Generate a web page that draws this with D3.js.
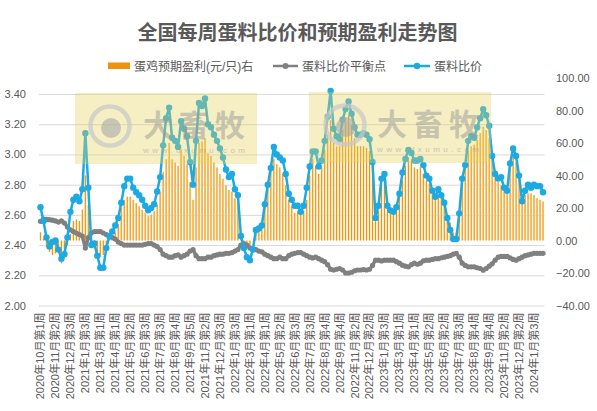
<!DOCTYPE html>
<html>
<head>
<meta charset="utf-8">
<script src="https://cdn.jsdelivr.net/npm/d3@7"></script>
<style>
  body { margin: 0; background: #fff; }
  text { font-family: "Liberation Sans", "Noto Sans CJK SC", sans-serif; }
</style>
</head>
<body>
<div id="chart"></div>
<script>
// 蛋料比价 (left axis), one value per week from 2020年10月第1周
const ratio = [
  2.65, 2.56, 2.45, 2.39, 2.42, 2.43, 2.37, 2.31, 2.34, 2.45,
  2.62, 2.70, 2.72, 2.69, 2.77, 3.14, 2.78, 2.40, 2.41, 2.33,
  2.25, 2.25, 2.38, 2.46, 2.49, 2.53, 2.58, 2.68, 2.79, 2.84,
  2.84, 2.78, 2.75, 2.73, 2.70, 2.66, 2.63, 2.645, 2.67, 2.755,
  2.85, 3.06, 3.24, 3.31, 3.11, 3.09, 3.05, 3.22, 3.17, 3.12,
  2.95, 2.80, 3.09, 3.34, 3.32, 3.37, 3.20, 3.18, 3.13, 3.09,
  3.04, 2.98, 2.90, 2.85, 2.87, 2.77, 2.73, 2.46, 2.38, 2.32,
  2.30, 2.37, 2.50, 2.51, 2.53, 2.67, 2.80, 2.91, 3.05, 3.00,
  2.98, 2.96, 2.87, 2.74, 2.70, 2.66, 2.66, 2.62, 2.66, 2.78,
  2.92, 3.02, 3.02, 2.92, 2.96, 3.09, 3.25, 3.42, 3.17, 3.12,
  3.10, 3.23, 3.30, 3.35, 3.27, 3.18, 3.13, 3.13, 3.14, 3.13,
  3.10, 2.95, 2.58, 2.66, 2.84, 2.87, 2.66, 2.63, 2.62, 2.65,
  2.74, 2.88, 2.97, 3.03, 3.01, 2.96, 2.96, 2.97, 2.93, 2.86,
  2.84, 2.76, 2.72, 2.77, 2.73, 2.68, 2.58, 2.50, 2.44, 2.44,
  2.61, 2.84, 2.93, 3.09, 3.12, 3.11, 3.18, 3.24, 3.30, 3.26,
  3.19, 2.99, 2.87, 2.84, 2.85, 2.78, 2.76, 2.94, 3.04, 2.99,
  2.86, 2.69, 2.76, 2.80, 2.78, 2.80, 2.79, 2.79, 2.75
];

// 蛋料比价平衡点 (left axis)
const balance = [
  2.557, 2.572, 2.57, 2.568, 2.565, 2.56, 2.552, 2.56, 2.546, 2.52,
  2.50, 2.49, 2.48, 2.47, 2.46, 2.38, 2.45, 2.48, 2.49, 2.49,
  2.49, 2.48, 2.47, 2.46, 2.45, 2.44, 2.42, 2.41, 2.40, 2.40,
  2.40, 2.40, 2.40, 2.40, 2.40, 2.405, 2.41, 2.41, 2.40, 2.39,
  2.37, 2.34, 2.33, 2.32, 2.32, 2.33, 2.335, 2.32, 2.33, 2.34,
  2.36, 2.37, 2.33, 2.31, 2.31, 2.31, 2.32, 2.32, 2.33, 2.335,
  2.34, 2.34, 2.345, 2.345, 2.35, 2.36, 2.37, 2.40, 2.41, 2.40,
  2.38, 2.375, 2.37, 2.36, 2.355, 2.34, 2.33, 2.32, 2.31, 2.31,
  2.32, 2.31, 2.31, 2.33, 2.34, 2.345, 2.35, 2.35, 2.34, 2.33,
  2.32, 2.315, 2.32, 2.31, 2.30, 2.29, 2.27, 2.24, 2.235, 2.24,
  2.245, 2.235, 2.215, 2.215, 2.22, 2.23, 2.235, 2.235, 2.238, 2.235,
  2.24, 2.265, 2.30, 2.30, 2.295, 2.30, 2.30, 2.30, 2.30, 2.29,
  2.28, 2.267, 2.26, 2.256, 2.27, 2.28, 2.273, 2.28, 2.296, 2.30,
  2.30, 2.305, 2.31, 2.31, 2.316, 2.32, 2.325, 2.33, 2.34, 2.345,
  2.32, 2.28, 2.265, 2.256, 2.256, 2.256, 2.25, 2.245, 2.234, 2.245,
  2.26, 2.276, 2.30, 2.32, 2.325, 2.325, 2.325, 2.315, 2.305, 2.30,
  2.31, 2.32, 2.33, 2.335, 2.34, 2.345, 2.345, 2.345, 2.345
];

// 蛋鸡预期盈利(元/只) (right axis)
const profit = [
  5, 1, -4, -7, -9, -8, -7, -14, -11, -3,
  4, 12, 13, 12, 19, 40, 22, -4, -5, -7,
  -10, -9, -4, 1, 3, 5, 10, 20, 25, 27,
  27, 25, 23, 21, 19, 17, 15, 16, 18, 22,
  30, 42, 50, 60, 50, 48, 46, 56, 52, 47,
  36, 25, 45, 60, 61, 63, 54, 52, 48, 45,
  41, 38, 34, 31, 30, 26, 24, 2, -2, -4,
  -4, 0, 6, 8, 9, 22, 32, 44, 50, 47,
  45, 41, 34, 25, 21, 17, 18, 16, 18, 25,
  40, 50, 46, 41, 45, 56, 65, 74, 60, 58,
  58, 68, 73, 77, 71, 63, 58, 58, 58, 57,
  55, 46, 13, 18, 34, 37, 22, 19, 18, 20,
  28, 37, 46, 51, 49, 45, 44, 45, 41, 37,
  35, 30, 26, 28, 26, 22, 16, 11, 5, 5,
  14, 37, 45, 55, 58, 59, 62, 66, 70, 68,
  63, 52, 41, 36, 34, 31, 30, 45, 52, 48,
  39, 24, 28, 29, 29, 28, 26, 25, 24
];

// one label every 5 weeks
const tickLabels = [
  "2020年10月第1周", "2020年11月第2周", "2020年12月第3周", "2021年1月第3周",
  "2021年3月第1周", "2021年4月第1周", "2021年5月第2周", "2021年6月第3周",
  "2021年7月第3周", "2021年8月第4周", "2021年9月第5周", "2021年11月第2周",
  "2021年12月第3周", "2022年1月第3周", "2022年3月第1周", "2022年4月第1周",
  "2022年5月第2周", "2022年6月第3周", "2022年7月第3周", "2022年8月第4周",
  "2022年9月第4周", "2022年11月第2周", "2022年12月第2周", "2023年1月第3周",
  "2023年3月第1周", "2023年4月第1周", "2023年5月第2周", "2023年6月第2周",
  "2023年7月第3周", "2023年8月第4周", "2023年9月第4周", "2023年11月第2周",
  "2023年12月第2周", "2024年1月第3周"
];

const leftTicks = [2.0, 2.2, 2.4, 2.6, 2.8, 3.0, 3.2, 3.4];
const rightTicks = [-40, -20, 0, 20, 40, 60, 80, 100];

const W = 597, H = 411;
const plot = {left: 39, right: 544.5, top: 94, bottom: 305.5};
const blue = "#1DA9E1", gray = "#808080", orange = "#EF920D", textCol = "#595959";

const svg = d3.select("#chart").append("svg")
  .attr("width", W)
  .attr("height", H);

const x = d3.scaleBand()
  .domain(d3.range(ratio.length))
  .range([plot.left, plot.right]);
const yL = d3.scaleLinear().domain([2.0, 3.4]).range([plot.bottom, plot.top]);
const yR = d3.scaleLinear().domain([-40, 100]).range([plot.bottom, 78]);
const cx = i => x(i) + x.bandwidth() / 2;

// title
svg.append("text")
  .attr("x", 297.5)
  .attr("y", 40)
  .attr("text-anchor", "middle")
  .attr("fill", textCol)
  .attr("font-size", 20)
  .attr("font-weight", "bold")
  .style("font-family", "'Noto Sans CJK SC', sans-serif")
  .text("全国每周蛋料比价和预期盈利走势图");

// left axis + gridlines
const gL = svg.append("g")
  .attr("transform", `translate(${plot.left},0)`)
  .call(d3.axisLeft(yL).tickValues(leftTicks).tickFormat(d3.format(".2f"))
    .tickSize(-(plot.right - plot.left)).tickPadding(13));
gL.select(".domain").remove();
gL.selectAll(".tick line").attr("stroke", "#D9D9D9");
gL.selectAll(".tick text").attr("fill", textCol).attr("font-size", 11);

// right axis
const gR = svg.append("g")
  .attr("transform", `translate(${plot.right},0)`)
  .call(d3.axisRight(yR).tickValues(rightTicks).tickFormat(d3.format(".2f"))
    .tickSize(0).tickPadding(11.5));
gR.select(".domain").remove();
gR.selectAll(".tick text").attr("fill", textCol).attr("font-size", 11);

// x axis, rotated labels
const gX = svg.append("g")
  .attr("transform", `translate(0,${plot.bottom})`)
  .call(d3.axisBottom(x).tickValues(d3.range(0, ratio.length, 5))
    .tickFormat(i => tickLabels[i / 5]).tickSize(0));
gX.select(".domain").remove();
gX.selectAll(".tick text")
  .attr("fill", textCol)
  .attr("font-size", 11)
  .attr("text-anchor", "end")
  .attr("transform", "translate(0,7) rotate(-90)")
  .attr("x", 0)
  .attr("y", 0)
  .attr("dy", "0.36em");

// bars: pale band with thin orange stripe
const bars = svg.append("g");
bars.selectAll(".bg")
  .data(profit)
  .join("rect")
  .attr("class", "bg")
  .attr("x", (d, i) => x(i) + 0.3)
  .attr("width", x.bandwidth() - 0.6)
  .attr("y", d => yR(Math.max(0, d)))
  .attr("height", d => Math.abs(yR(d) - yR(0)))
  .attr("fill", "#FCEFCF");
bars.selectAll(".bar")
  .data(profit)
  .join("rect")
  .attr("class", "bar")
  .attr("x", (d, i) => cx(i) - 0.55)
  .attr("width", 1.1)
  .attr("y", d => yR(Math.max(0, d)))
  .attr("height", d => Math.abs(yR(d) - yR(0)))
  .attr("fill", orange);

// balance line
const lineL = d3.line().x((d, i) => cx(i)).y(d => yL(d));
svg.append("path")
  .datum(balance)
  .attr("fill", "none")
  .attr("stroke", gray)
  .attr("stroke-width", 3.5)
  .attr("stroke-linejoin", "round")
  .attr("d", lineL);
svg.append("g").selectAll("circle")
  .data(balance)
  .join("circle")
  .attr("cx", (d, i) => cx(i))
  .attr("cy", d => yL(d))
  .attr("r", 2.6)
  .attr("fill", gray);

// ratio line
svg.append("path")
  .datum(ratio)
  .attr("fill", "none")
  .attr("stroke", blue)
  .attr("stroke-width", 2.5)
  .attr("stroke-linejoin", "round")
  .attr("d", lineL);
svg.append("g").selectAll("circle")
  .data(ratio)
  .join("circle")
  .attr("cx", (d, i) => cx(i))
  .attr("cy", d => yL(d))
  .attr("r", 3.2)
  .attr("fill", blue);

// watermarks
const marks = [
  {x: 75, y: 93, ring: [110, 126], word: 143},
  {x: 309, y: 92, ring: [345, 125], word: 377}
];
marks.forEach(m => {
  const g = svg.append("g");
  g.append("rect")
    .attr("x", m.x).attr("y", m.y)
    .attr("width", 182).attr("height", 71)
    .attr("fill", "#E6D35C")
    .attr("opacity", 0.36);
  g.append("circle")
    .attr("cx", m.ring[0]).attr("cy", m.ring[1]).attr("r", 19.5)
    .attr("fill", "none").attr("stroke", "#C8C8C8")
    .attr("stroke-width", 4.5).attr("opacity", 0.7);
  g.append("circle")
    .attr("cx", m.ring[0] + 1).attr("cy", m.ring[1] + 2).attr("r", 10)
    .attr("fill", "#A8A8A8").attr("opacity", 0.6);
  g.append("text")
    .attr("x", m.word).attr("y", m.ring[1] + 10)
    .attr("font-size", 30).attr("font-weight", "bold")
    .attr("textLength", 102)
    .attr("fill", "#9A9A9A").attr("opacity", 0.5)
    .style("font-family", "'Noto Sans CJK SC', sans-serif")
    .text("大畜牧");
  g.append("text")
    .attr("x", m.word).attr("y", m.ring[1] + 27)
    .attr("font-size", 8)
    .attr("textLength", 102)
    .attr("fill", "#9A9A9A").attr("opacity", 0.5)
    .text("www.dxumu.com");
});

// legend
const legend = svg.append("g").attr("font-size", 12).attr("fill", textCol);
legend.append("rect")
  .attr("x", 108).attr("y", 62.5).attr("width", 22).attr("height", 6.5)
  .attr("fill", orange);
legend.append("text").attr("x", 134).attr("y", 70.5).text("蛋鸡预期盈利(元/只)右");

legend.append("line")
  .attr("x1", 273).attr("x2", 298).attr("y1", 66).attr("y2", 66)
  .attr("stroke", gray).attr("stroke-width", 2.5);
legend.append("circle").attr("cx", 285.5).attr("cy", 66).attr("r", 3).attr("fill", gray);
legend.append("text").attr("x", 302).attr("y", 70.5).text("蛋料比价平衡点");

legend.append("line")
  .attr("x1", 404).attr("x2", 430).attr("y1", 66).attr("y2", 66)
  .attr("stroke", blue).attr("stroke-width", 2.5);
legend.append("circle").attr("cx", 417).attr("cy", 66).attr("r", 3.2).attr("fill", blue);
legend.append("text").attr("x", 434).attr("y", 70.5).text("蛋料比价");
</script>
</body>
</html>
